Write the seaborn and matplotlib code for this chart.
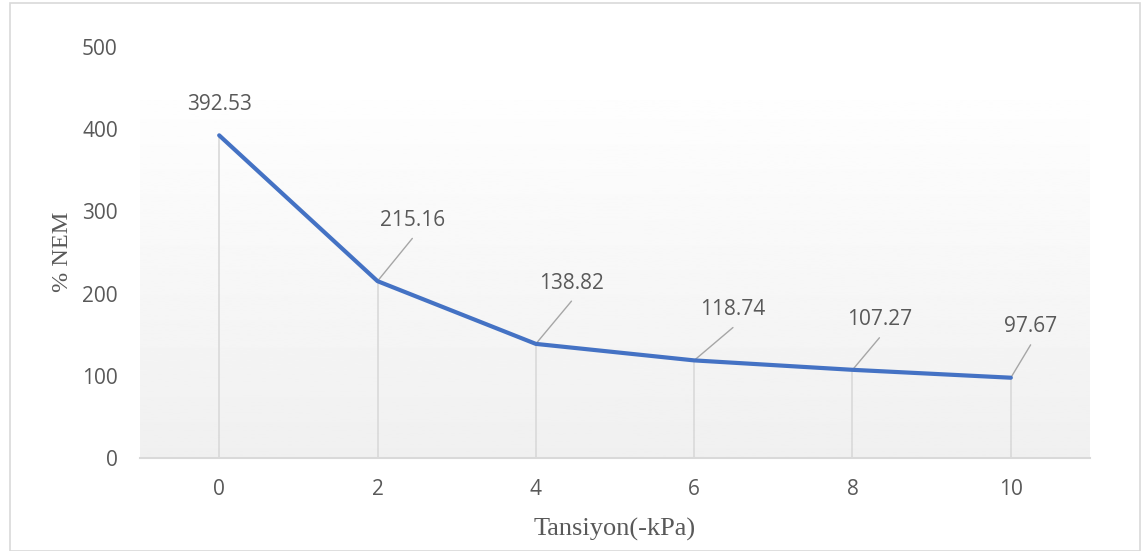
import numpy as np
import matplotlib
matplotlib.use("Agg")
import matplotlib.pyplot as plt
from matplotlib.patches import Rectangle
import seaborn as sns

# Data
tension = [0, 2, 4, 6, 8, 10]
tick_labels = ["0", "2", "4", "6", "8", "10"]
moisture = [392.53, 215.16, 138.82, 118.74, 107.27, 97.67]
# Callout leader offsets (x in axis units, y in value units)
leader_dx = [0.0, 0.44, 0.45, 0.49, 0.34, 0.25]
leader_dy = [0, 52, 52, 40, 39, 40]

sns.set_theme(style="white")
plt.rcParams["font.family"] = ["Open Sans", "DejaVu Sans"]

fig = plt.figure(figsize=(11.43, 5.51), dpi=100)
ax = fig.add_axes([140 / 1143, (551 - 458) / 551, 950 / 1143, 411 / 551])

xlim = (-1.0, 11.0)
ylim = (0, 500)
label_color = "#595959"

# Gradient plot-area fill
grad = np.linspace(0.94, 0.995, 256).reshape(-1, 1)
ax.imshow(grad, extent=[xlim[0], xlim[1], 0, 435], origin="lower",
          cmap="gray", vmin=0, vmax=1, aspect="auto", zorder=0)

# Drop lines from points to axis
for xv, yv in zip(tension, moisture):
    ax.plot([xv, xv], [0, yv], color="#D9D9D9", lw=1.2, zorder=1)

sns.lineplot(x=tension, y=moisture, ax=ax, color="#4472C4", lw=3.0,
             zorder=3, sort=False)

# Data labels with leader lines
for i, (xv, yv) in enumerate(zip(tension, moisture)):
    if i == 0:
        ax.text(xv, yv + 37, f"{yv:.2f}", ha="center", va="center",
                fontsize=15, color=label_color, zorder=4)
    else:
        lx, ly = xv + leader_dx[i], yv + leader_dy[i]
        ax.plot([xv, lx], [yv, ly], color="#A6A6A6", lw=1.0, zorder=2)
        ax.text(lx, ly + 22, f"{yv:.2f}", ha="center", va="center",
                fontsize=15, color=label_color, zorder=4)

ax.set_xlim(*xlim)
ax.set_ylim(*ylim)
ax.set_xticks(tension)
ax.set_xticklabels(tick_labels)
ax.set_yticks([0, 100, 200, 300, 400, 500])
ax.tick_params(axis="both", length=0, labelsize=15, labelcolor=label_color)
ax.tick_params(axis="x", pad=15)
ax.tick_params(axis="y", pad=16)

for s in ["top", "right", "left"]:
    ax.spines[s].set_visible(False)
ax.spines["bottom"].set_color("#D9D9D9")
ax.spines["bottom"].set_linewidth(1.5)
ax.set_facecolor("white")

ax.set_xlabel("Tansiyon(-kPa)", family="Liberation Serif", fontsize=19,
              color=label_color)
ax.set_ylabel("% NEM", family="Liberation Serif", fontsize=17.5,
              color=label_color)
ax.xaxis.set_label_coords(0.5, (458 - 518) / 411)
ax.yaxis.set_label_coords((73 - 140) / 950, (458 - 252) / 411)

# Chart outer border
fig.patches.append(Rectangle((10 / 1143, 0), 1130 / 1143, 548 / 551,
                             transform=fig.transFigure, fill=False,
                             edgecolor="#D9D9D9", lw=1.2))

fig.savefig("out.png", dpi=100)
